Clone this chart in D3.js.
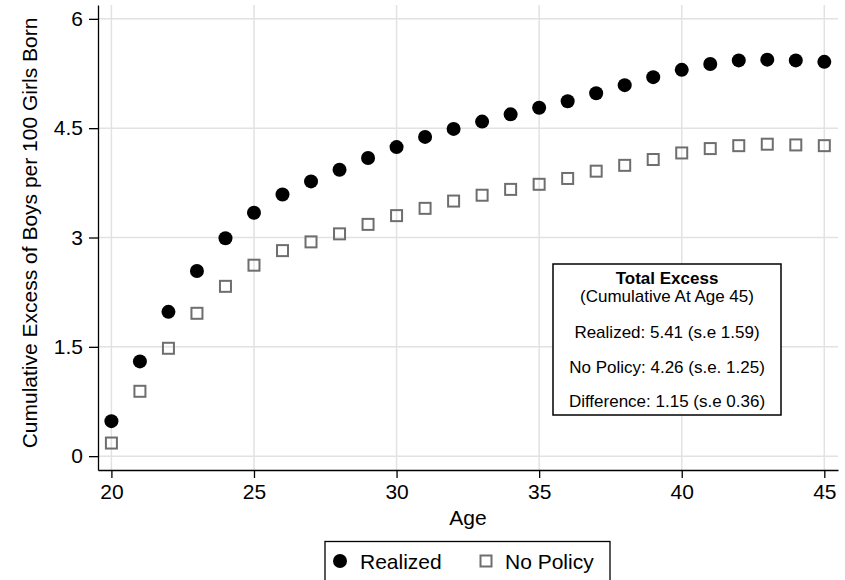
<!DOCTYPE html>
<html>
<head>
<meta charset="utf-8">
<script src="https://cdn.jsdelivr.net/npm/d3@7"></script>
<style>
  html, body { margin: 0; padding: 0; background: #fff; }
  svg { display: block; font-family: "Liberation Sans", Arial, Helvetica, sans-serif; }
</style>
</head>
<body>
<div id="chart"></div>
<script>
const ages = [20, 21, 22, 23, 24, 25, 26, 27, 28, 29, 30, 31, 32,
              33, 34, 35, 36, 37, 38, 39, 40, 41, 42, 43, 44, 45]

const realized = [0.48, 1.30, 1.98, 2.54, 2.99, 3.34, 3.59, 3.77, 3.93, 4.09, 4.24, 4.38, 4.49,
                  4.59, 4.69, 4.78, 4.87, 4.98, 5.09, 5.20, 5.30, 5.38, 5.43, 5.44, 5.43, 5.41]

const noPolicy = [0.18, 0.89, 1.48, 1.96, 2.33, 2.62, 2.82, 2.94, 3.05, 3.18, 3.30, 3.40, 3.50,
                  3.58, 3.66, 3.73, 3.81, 3.91, 3.99, 4.07, 4.16, 4.22, 4.26, 4.28, 4.27, 4.26]

const xTicks = [20, 25, 30, 35, 40, 45]
const yTicks = [0, 1.5, 3, 4.5, 6]

const noteLines = [
  "Total Excess",
  "(Cumulative At Age 45)",
  "Realized: 5.41 (s.e 1.59)",
  "No Policy: 4.26 (s.e. 1.25)",
  "Difference: 1.15 (s.e 0.36)"
]

const legendItems = ["Realized", "No Policy"]

const width = 845
const height = 580
const plot = { left: 98, right: 838, top: 5, bottom: 470 }

const svg = d3.select("#chart")
  .append("svg")
  .attr("width", width)
  .attr("height", height)

const x = d3.scaleLinear().domain([19.53, 45.48]).range([plot.left, plot.right])
const y = d3.scaleLinear().domain([-0.19, 6.19]).range([plot.bottom, plot.top])

// Grid
const grid = svg.append("g").attr("stroke", "#e2e2e2").attr("stroke-width", 1.5)
grid.selectAll(".gx").data(xTicks).enter().append("line")
  .attr("x1", d => x(d)).attr("x2", d => x(d))
  .attr("y1", plot.top).attr("y2", plot.bottom)
grid.selectAll(".gy").data(yTicks).enter().append("line")
  .attr("x1", plot.left).attr("x2", plot.right)
  .attr("y1", d => y(d)).attr("y2", d => y(d))

// Axes
const yAxis = svg.append("g")
  .attr("transform", `translate(${plot.left},0)`)
  .call(d3.axisLeft(y).tickValues(yTicks).tickFormat(d => String(d))
    .tickSize(9).tickSizeOuter(0).tickPadding(6))

const xAxis = svg.append("g")
  .attr("transform", `translate(0,${plot.bottom})`)
  .call(d3.axisBottom(x).tickValues(xTicks).tickFormat(d => String(d))
    .tickSize(8).tickSizeOuter(0).tickPadding(6))

;[xAxis, yAxis].forEach(ax => {
  ax.selectAll("path, line").attr("stroke", "#000").attr("stroke-width", 1.3)
  ax.selectAll("text")
    .attr("fill", "#000")
    .style("font-size", "21px")
    .style("font-family", "\"Liberation Sans\", Arial, sans-serif")
})

// Axis titles
svg.append("text")
  .attr("x", (plot.left + plot.right) / 2)
  .attr("y", 525)
  .attr("text-anchor", "middle")
  .style("font-size", "21px")
  .text("Age")

svg.append("text")
  .attr("transform", "translate(37,233) rotate(-90)")
  .attr("text-anchor", "middle")
  .style("font-size", "21px")
  .text("Cumulative Excess of Boys per 100 Girls Born")

// Points
const sq = 11
svg.append("g").selectAll("rect")
  .data(ages)
  .enter().append("rect")
  .attr("x", (d, i) => x(d) - sq / 2)
  .attr("y", (d, i) => y(noPolicy[i]) - sq / 2)
  .attr("width", sq)
  .attr("height", sq)
  .attr("fill", "none")
  .attr("stroke", "#6e6e6e")
  .attr("stroke-width", 2)

svg.append("g").selectAll("circle")
  .data(ages)
  .enter().append("circle")
  .attr("cx", d => x(d))
  .attr("cy", (d, i) => y(realized[i]))
  .attr("r", 7)
  .attr("fill", "#000")

// Note box
const note = svg.append("g")
note.append("rect")
  .attr("x", 553).attr("y", 264)
  .attr("width", 228).attr("height", 151)
  .attr("fill", "#fff")
  .attr("stroke", "#000")
  .attr("stroke-width", 1.5)

const noteY = [283.5, 302, 337.5, 372.5, 406.5]
note.selectAll("text")
  .data(noteLines)
  .enter().append("text")
  .attr("x", 667)
  .attr("y", (d, i) => noteY[i])
  .attr("text-anchor", "middle")
  .style("font-size", "17px")
  .style("font-weight", (d, i) => i === 0 ? "bold" : "normal")
  .text(d => d)

// Legend
const legend = svg.append("g")
legend.append("rect")
  .attr("x", 325).attr("y", 541.5)
  .attr("width", 285).attr("height", 60)
  .attr("fill", "#fff")
  .attr("stroke", "#000")
  .attr("stroke-width", 1.3)

legend.append("circle")
  .attr("cx", 340).attr("cy", 561).attr("r", 7)
  .attr("fill", "#000")
legend.append("rect")
  .attr("x", 486 - 5.5).attr("y", 561 - 5.5)
  .attr("width", 11).attr("height", 11)
  .attr("fill", "none")
  .attr("stroke", "#6e6e6e")
  .attr("stroke-width", 2)

const legendX = [360, 505]
legend.selectAll("text")
  .data(legendItems)
  .enter().append("text")
  .attr("x", (d, i) => legendX[i])
  .attr("y", 568.5)
  .style("font-size", "21px")
  .text(d => d)
</script>
</body>
</html>
